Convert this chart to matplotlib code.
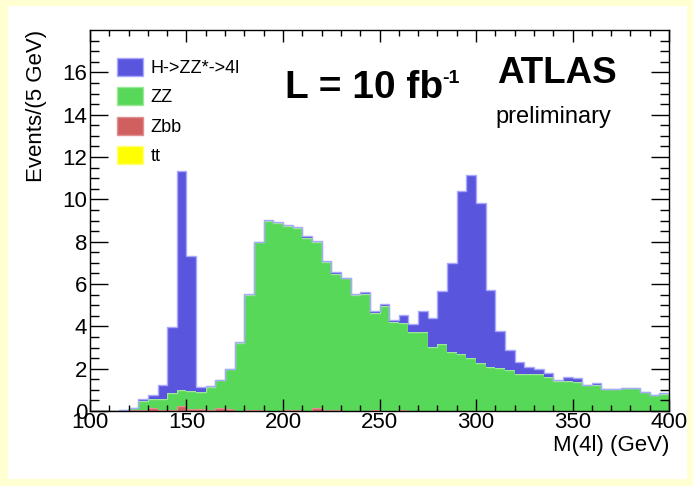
import numpy as np
import matplotlib
matplotlib.use("Agg")
from matplotlib import pyplot as plt
from matplotlib.patches import Rectangle, Patch

plt.rcParams["font.family"] = ["Liberation Sans", "DejaVu Sans"]

# 5 GeV bins from 100 to 400 GeV
BIN_LOW = 100
BIN_WIDTH = 5
N_BINS = 60

higgs = [0, 0, 0, 0.01, 0.03, 0.06, 0.20, 0.70, 3.13, 10.38,
         6.38, 0.25, 0.05, 0.02, 0.02, 0.02, 0.03, 0.03, 0.04, 0.04,
         0.06, 0.05, 0.08, 0.06, 0.06, 0.09, 0.03, 0.05, 0.05, 0.08,
         0.08, 0.07, 0.40, 0.38, 0.98, 1.37, 2.48, 4.17, 7.68, 8.65,
         7.57, 3.64, 1.78, 0.92, 0.58, 0.33, 0.24, 0.16, 0.06, 0.17,
         0.18, 0.03, 0.07, 0.03, 0.02, 0.01, 0.01, 0.01, 0.01, 0.05]
zz = [0, 0, 0, 0.04, 0.08, 0.44, 0.41, 0.50, 0.79, 0.73,
      0.86, 0.80, 1.10, 1.31, 1.89, 3.22, 5.47, 7.92, 8.97, 8.88,
      8.68, 8.60, 8.16, 7.85, 6.99, 6.43, 6.26, 5.50, 5.55, 4.59,
      4.98, 4.21, 4.12, 3.74, 3.74, 3.03, 3.18, 2.80, 2.70, 2.50,
      2.28, 2.06, 2.02, 1.95, 1.73, 1.73, 1.73, 1.62, 1.42, 1.42,
      1.36, 1.21, 1.24, 1.02, 1.03, 1.09, 1.09, 0.90, 0.74, 0.80]
zbb = [0, 0, 0, 0, 0.05, 0.05, 0.14, 0.05, 0.05, 0.24,
       0.08, 0.08, 0.05, 0.14, 0.08, 0, 0.03, 0.05, 0.02, 0,
       0.05, 0.05, 0.02, 0.14, 0.05, 0.05, 0, 0, 0, 0.05,
       0, 0, 0.03, 0, 0, 0, 0, 0, 0, 0,
       0, 0, 0, 0, 0, 0, 0, 0, 0, 0,
       0, 0, 0, 0, 0, 0, 0, 0, 0, 0]
tt = [0.0] * N_BINS

labels = ["H->ZZ*->4l", "ZZ", "Zbb", "tt"]
colors = ["#5a55dd", "#58d858", "#d06060", "#ffff00"]
edge_colors = ["#a8a8ff", "#9be89b", "#e09090", "#ffff80"]


def main():
    edges = BIN_LOW + BIN_WIDTH * np.arange(N_BINS + 1)

    fig = plt.figure(figsize=(6.93, 4.86), dpi=100)
    fig.patch.set_facecolor("#ffffd2")
    fig.add_artist(Rectangle((8 / 693, 7 / 486), 679 / 693, 473 / 486,
                             transform=fig.transFigure, facecolor="white",
                             edgecolor="none", zorder=0))
    ax = fig.add_axes([90 / 693, 75 / 486, 579 / 693, 381 / 486])

    # stack from the bottom: tt, Zbb, ZZ, Higgs
    stack = [np.array(tt), np.array(zbb), np.array(zz), np.array(higgs)]
    stack_colors = colors[::-1]
    stack_edges = edge_colors[::-1]
    base = np.zeros(N_BINS)
    for vals, c, ec in zip(stack, stack_colors, stack_edges):
        top = base + vals
        ax.stairs(top, edges, baseline=base, fill=True, color=c, lw=0)
        if vals.max() > 0:
            ax.stairs(top, edges, baseline=None, color=ec, lw=1)
        base = top

    ax.set_xlim(100, 400)
    ax.set_ylim(0, 18)
    ax.set_xticks(np.arange(100, 401, 50))
    ax.set_xticks(np.arange(100, 401, 10), minor=True)
    ax.set_yticks(np.arange(0, 17, 2))
    ax.set_yticks(np.arange(0, 18, 0.5), minor=True)
    ax.tick_params(axis="both", which="both", direction="in", top=True, right=True, width=1)
    ax.tick_params(axis="x", which="major", length=8.6, labelsize=16, pad=1)
    ax.tick_params(axis="x", which="minor", length=4.3)
    ax.tick_params(axis="y", which="major", length=13, labelsize=16, pad=2)
    ax.tick_params(axis="y", which="minor", length=6.5)
    for s in ax.spines.values():
        s.set_linewidth(1)

    ax.set_xlabel("M(4l) (GeV)", fontsize=16, loc="right", labelpad=1)
    ax.set_ylabel("Events/(5 GeV)", fontsize=16, loc="top", labelpad=11)

    handles = [Patch(facecolor=c, edgecolor=ec, lw=1) for c, ec in zip(colors, edge_colors)]
    ax.legend(handles, labels, loc="upper left", bbox_to_anchor=(0.0466, 0.9265),
              frameon=False, fontsize=13, handlelength=1.45, handleheight=1.15,
              handletextpad=0.4, labelspacing=0.57, borderpad=0, borderaxespad=0)

    ax.text(0.337, 0.8215, "L = 10 fb", transform=ax.transAxes,
            fontsize=28, fontweight="bold", ha="left", va="baseline")
    ax.text(0.609, 0.862, "-1", transform=ax.transAxes,
            fontsize=14, fontweight="bold", ha="left", va="baseline")
    ax.text(0.703, 0.861, "ATLAS", transform=ax.transAxes,
            fontsize=26.5, fontweight="bold", ha="left", va="baseline")
    ax.text(0.701, 0.756, "preliminary", transform=ax.transAxes,
            fontsize=17, ha="left", va="baseline")

    fig.savefig("out.png", dpi=100, facecolor=fig.get_facecolor())


if __name__ == "__main__":
    main()
